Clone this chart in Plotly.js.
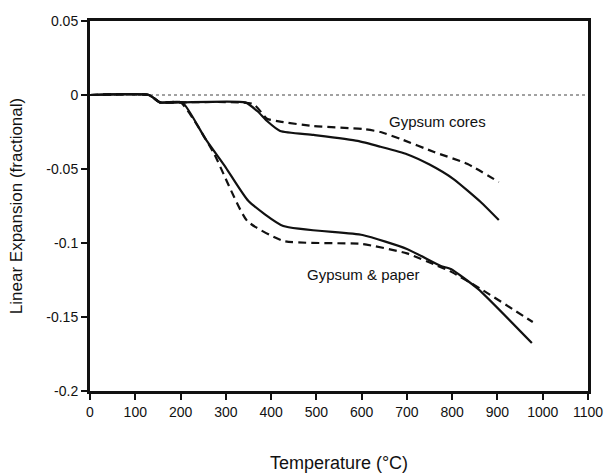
<!DOCTYPE html>
<html>
<head>
<meta charset="utf-8">
<script src="https://cdn.plot.ly/plotly-3.0.1.min.js"></script>
<style>
  html, body { margin: 0; padding: 0; background: #fff; }
  #chart { width: 605px; height: 474px; }
</style>
</head>
<body>
<div id="chart"></div>
<script>
// Linear expansion of gypsum board specimens versus temperature

// Gypsum cores, solid curve
const coresSolidT = [0, 130, 155, 200, 343, 370, 391, 420, 494, 591, 642, 700, 750, 803, 863, 903];
const coresSolidV = [0, 0, -0.005, -0.005, -0.005, -0.011, -0.0176, -0.0243, -0.027, -0.031, -0.035, -0.040, -0.047, -0.0568, -0.0723, -0.0845];

// Gypsum cores, dashed curve
const coresDashT = [0, 130, 155, 200, 360, 391, 420, 494, 604, 642, 686, 760, 834, 903];
const coresDashV = [0, 0, -0.005, -0.005, -0.006, -0.016, -0.018, -0.021, -0.023, -0.025, -0.0297, -0.0385, -0.0466, -0.0588];

// Gypsum & paper, solid curve
const paperSolidT = [0, 130, 155, 204, 255, 300, 350, 427, 602, 700, 775, 797, 857, 976];
const paperSolidV = [0, 0, -0.005, -0.005, -0.0297, -0.049, -0.0716, -0.0885, -0.0946, -0.104, -0.1155, -0.1176, -0.131, -0.1676];

// Gypsum & paper, dashed curve
const paperDashT = [0, 130, 155, 200, 272, 347, 427, 602, 700, 768, 795, 863, 978];
const paperDashV = [0, 0, -0.005, -0.005, -0.0385, -0.085, -0.0986, -0.1007, -0.107, -0.1155, -0.119, -0.131, -0.1534];

// Dotted reference at zero expansion
const baseT = [0, 1100];
const baseV = [0, 0];

// Axis ticks
const xTicks = [0, 100, 200, 300, 400, 500, 600, 700, 800, 900, 1000, 1100];
const yTickVals = [0.05, 0, -0.05, -0.1, -0.15, -0.2];
const yTickText = ['0.05', '0', '-0.05', '-0.1', '-0.15', '-0.2'];

// Curve labels
const labelText = ['Gypsum cores', 'Gypsum &amp; paper'];
const labelT = [768, 605];
const labelV = [-0.0176, -0.1216];

const FONT = 'Liberation Sans, Arial, sans-serif';
const lineSolid = { color: '#111', width: 2.2, shape: 'spline', smoothing: 0.5 };
const lineDash = { color: '#111', width: 2.2, dash: '8px,5px', shape: 'spline', smoothing: 0.5 };

const traces = [
  { x: baseT, y: baseV, mode: 'lines', line: { color: '#444', width: 1, dash: 'dot' }, hoverinfo: 'skip' },
  { x: coresSolidT, y: coresSolidV, mode: 'lines', line: lineSolid },
  { x: coresDashT, y: coresDashV, mode: 'lines', line: lineDash },
  { x: paperSolidT, y: paperSolidV, mode: 'lines', line: lineSolid },
  { x: paperDashT, y: paperDashV, mode: 'lines', line: lineDash }
];

const annotations = labelText.map((t, i) => ({
  x: labelT[i], y: labelV[i], xref: 'x', yref: 'y',
  text: t, showarrow: false,
  font: { family: FONT, size: 15, color: '#111' }
}));

const layout = {
  width: 605, height: 474,
  margin: { l: 90, r: 17, t: 21, b: 83 },
  paper_bgcolor: '#fff', plot_bgcolor: '#fff',
  showlegend: false,
  font: { family: FONT, size: 14, color: '#111' },
  xaxis: {
    range: [0, 1100],
    tickvals: xTicks,
    ticks: 'outside', ticklen: 6, tickwidth: 2, tickcolor: '#111',
    showline: true, linecolor: '#111', linewidth: 3, mirror: true,
    showgrid: false, zeroline: false,
    tickfont: { family: FONT, size: 14, color: '#111' },
    title: { text: 'Temperature (°C)', font: { family: FONT, size: 18, color: '#111' }, standoff: 38 }
  },
  yaxis: {
    range: [-0.2, 0.05],
    tickvals: yTickVals, ticktext: yTickText,
    ticks: 'outside', ticklen: 6, tickwidth: 2, tickcolor: '#111',
    showline: true, linecolor: '#111', linewidth: 3, mirror: true,
    showgrid: false, zeroline: false,
    tickfont: { family: FONT, size: 14, color: '#111' },
    title: { text: 'Linear Expansion (fractional)', font: { family: FONT, size: 17, color: '#111' }, standoff: 20 }
  },
  annotations: annotations
};

Plotly.newPlot('chart', traces, layout, { staticPlot: true, displayModeBar: false });
</script>
</body>
</html>
